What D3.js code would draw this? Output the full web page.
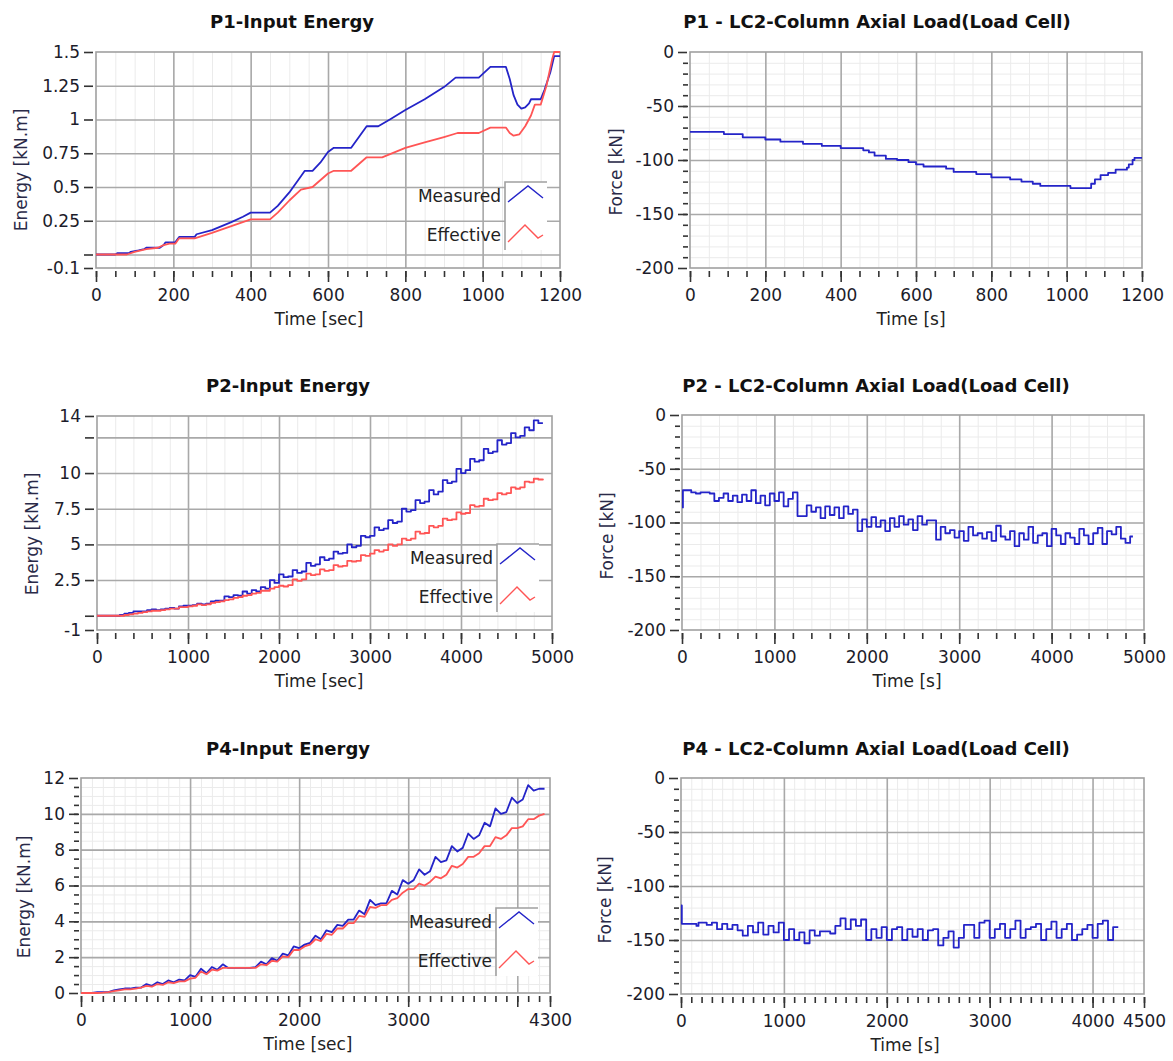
<!DOCTYPE html>
<html>
<head>
<meta charset="utf-8">
<script src="https://d3js.org/d3.v7.min.js"></script>
<style>
	body { margin: 0; background: #fff; }
	text { font-family: "DejaVu Sans", sans-serif; }
</style>
</head>
<body>
<svg id="chart" width="1173" height="1061"></svg>
<script>

// P1 input energy, [time s, energy kN.m]
var p1Measured = [[0,0],[50,0],[55,0.01],[85,0.01],[90,0.02],[110,0.03],[125,0.04],
	[130,0.05],[165,0.05],[175,0.07],[180,0.09],[205,0.09],[215,0.13],[255,0.13],
	[260,0.15],[300,0.18],[350,0.24],[380,0.28],[400,0.31],[450,0.31],[470,0.36],
	[500,0.46],[530,0.58],[540,0.62],[560,0.62],[580,0.68],[600,0.76],[615,0.79],
	[660,0.79],[680,0.87],[700,0.95],[730,0.95],[760,1.0],[800,1.07],[850,1.15],
	[900,1.24],[930,1.31],[990,1.31],[1020,1.39],[1060,1.39],[1070,1.3],[1080,1.18],
	[1090,1.11],[1100,1.08],[1110,1.09],[1120,1.12],[1125,1.15],[1150,1.15],
	[1160,1.22],[1175,1.35],[1185,1.47],[1200,1.47]];
var p1Effective = [[0,0],[80,0],[100,0.02],[130,0.04],[160,0.05],[175,0.07],[190,0.08],
	[205,0.08],[215,0.12],[255,0.12],[300,0.16],[350,0.21],[400,0.26],[450,0.26],
	[470,0.31],[500,0.4],[530,0.48],[560,0.5],[600,0.6],[615,0.62],[660,0.62],
	[680,0.67],[700,0.72],[740,0.72],[800,0.79],[850,0.83],[900,0.87],[935,0.9],
	[990,0.9],[1020,0.94],[1060,0.94],[1070,0.9],[1080,0.88],[1095,0.89],[1110,0.95],
	[1125,1.03],[1135,1.11],[1150,1.11],[1165,1.25],[1180,1.45],[1185,1.5],[1200,1.5]];

// P1 column axial load, [time s, force kN]
var p1Force = [[0,-74],[90,-76],[140,-79],[200,-81],[240,-83],[300,-85],[350,-87],
	[400,-89],[460,-91],[475,-93],[490,-96],[520,-99],[550,-100],[580,-102],[600,-104],
	[620,-106],[680,-108],[700,-111],[760,-113],[800,-116],[850,-118],[880,-120],
	[910,-122],[930,-124],[1010,-126],[1060,-126],[1065,-122],[1075,-118],[1090,-114],
	[1110,-112],[1130,-109],[1160,-107],[1165,-104],[1175,-100],[1180,-98],[1200,-98]];

// P2 input energy
var p2Time = [0,50,100,150,200,250,300,350,400,450,
	500,550,600,650,700,750,800,850,900,950,
	1000,1050,1100,1150,1200,1250,1300,1350,1400,1450,
	1500,1550,1600,1650,1700,1750,1800,1850,1900,1950,
	2000,2050,2100,2150,2200,2250,2300,2350,2400,2450,
	2500,2550,2600,2650,2700,2750,2800,2850,2900,2950,
	3000,3050,3100,3150,3200,3250,3300,3350,3400,3450,
	3500,3550,3600,3650,3700,3750,3800,3850,3900,3950,
	4000,4050,4100,4150,4200,4250,4300,4350,4400,4450,
	4500,4550,4600,4650,4700,4750,4800,4850,4900];
var p2Measured = [0,0,0,0,0,0.05,0.15,0.2,0.3,0.3,
	0.3,0.4,0.45,0.4,0.45,0.5,0.55,0.5,0.65,0.7,
	0.7,0.75,0.85,0.8,0.85,1.0,1.05,1.05,1.35,1.3,
	1.45,1.4,1.7,1.55,1.8,1.7,2.0,1.9,2.5,2.3,
	2.9,2.7,2.75,3.2,3.0,3.1,3.7,3.5,3.6,4.1,
	3.9,4.0,4.5,4.35,4.4,5.0,4.8,4.9,5.6,5.5,
	5.6,6.2,6.0,6.1,6.7,6.5,6.6,7.5,7.3,7.4,
	8.1,7.9,8.0,8.8,8.5,8.7,9.5,9.3,9.4,10.3,
	10.0,10.2,11.0,10.8,10.9,11.7,11.4,11.5,12.3,12.0,
	12.1,12.8,12.5,12.6,13.2,13.0,13.7,13.5,13.5];
var p2Effective = [0,0,0,0,0,0,0.05,0.1,0.15,0.2,
	0.25,0.3,0.35,0.35,0.4,0.45,0.5,0.5,0.6,0.6,
	0.65,0.7,0.8,0.75,0.8,0.9,0.95,1.0,1.1,1.15,
	1.25,1.3,1.4,1.45,1.55,1.6,1.75,1.75,1.9,2.0,
	2.1,2.05,2.15,2.55,2.45,2.55,2.95,2.85,2.9,3.25,
	3.15,3.2,3.55,3.45,3.5,3.85,3.8,3.85,4.25,4.2,
	4.35,4.6,4.5,4.6,5.0,4.9,5.0,5.4,5.3,5.4,
	5.9,5.75,5.8,6.3,6.2,6.3,6.8,6.7,6.75,7.25,
	7.15,7.2,7.75,7.65,7.7,8.2,8.1,8.15,8.6,8.5,
	8.6,9.0,8.9,9.0,9.4,9.35,9.6,9.55,9.6];

// P2 column axial load
var p2Force = [[0,-86],[10,-70],[100,-72],[150,-73],[200,-72],[300,-73],[350,-80],
	[400,-77],[450,-73],[500,-80],[550,-75],[600,-81],[650,-74],[700,-80],[750,-70],
	[800,-82],[850,-75],[900,-84],[950,-73],[1000,-80],[1050,-72],[1100,-85],[1150,-78],
	[1200,-72],[1250,-94],[1300,-94],[1350,-84],[1400,-90],[1450,-86],[1500,-96],
	[1550,-85],[1600,-93],[1650,-86],[1700,-96],[1750,-85],[1800,-92],[1850,-88],
	[1900,-108],[1950,-97],[2000,-104],[2050,-95],[2100,-104],[2150,-98],[2200,-108],
	[2250,-96],[2300,-104],[2350,-94],[2400,-102],[2450,-97],[2500,-107],[2550,-94],
	[2600,-102],[2650,-98],[2700,-98],[2750,-116],[2800,-104],[2850,-110],[2900,-107],
	[2950,-114],[3000,-108],[3050,-117],[3100,-104],[3150,-112],[3200,-110],[3250,-115],
	[3300,-109],[3350,-117],[3400,-103],[3450,-113],[3500,-116],[3550,-108],[3600,-122],
	[3650,-110],[3700,-116],[3750,-104],[3800,-119],[3850,-112],[3900,-110],[3950,-122],
	[4000,-106],[4050,-112],[4100,-120],[4150,-110],[4200,-114],[4250,-120],[4300,-106],
	[4350,-112],[4400,-120],[4450,-110],[4500,-105],[4550,-120],[4600,-108],[4650,-111],
	[4700,-104],[4750,-115],[4800,-119],[4850,-113],[4880,-113]];

// P4 input energy
var p4Time = [0,50,100,150,200,250,300,350,400,450,
	500,550,600,650,700,750,800,850,900,950,
	1000,1050,1100,1150,1200,1250,1300,1350,1400,1450,
	1500,1550,1600,1650,1700,1750,1800,1850,1900,1950,
	2000,2050,2100,2150,2200,2250,2300,2350,2400,2450,
	2500,2550,2600,2650,2700,2750,2800,2850,2900,2950,
	3000,3050,3100,3150,3200,3250,3300,3350,3400,3450,
	3500,3550,3600,3650,3700,3750,3800,3850,3900,3950,
	4000,4050,4100,4150,4200,4250];
var p4Measured = [0,0,0,0.05,0.05,0.05,0.15,0.2,0.25,0.25,
	0.3,0.3,0.5,0.4,0.6,0.5,0.7,0.6,0.75,0.7,
	1.0,0.9,1.35,1.1,1.45,1.3,1.6,1.4,1.4,1.4,
	1.4,1.4,1.45,1.75,1.6,1.95,1.8,2.2,2.1,2.6,
	2.5,2.7,2.8,3.2,3.0,3.5,3.4,3.8,3.75,4.1,
	4.1,4.6,4.4,5.2,4.9,5.0,5.0,5.7,5.5,6.3,
	6.1,6.3,6.9,6.6,6.8,7.6,7.3,7.4,8.2,7.9,
	8.1,8.9,8.6,8.8,9.5,9.3,10.3,10.0,10.1,10.9,
	10.6,10.8,11.6,11.3,11.4,11.4];
var p4Effective = [0,0,0,0,0.02,0.05,0.1,0.15,0.2,0.2,
	0.25,0.3,0.4,0.35,0.5,0.45,0.6,0.55,0.65,0.65,
	0.8,0.85,1.2,1.05,1.3,1.25,1.4,1.4,1.4,1.4,
	1.4,1.4,1.4,1.6,1.55,1.8,1.75,2.05,2.0,2.4,
	2.4,2.6,2.7,3.0,2.9,3.3,3.25,3.6,3.6,3.9,
	3.9,4.3,4.25,4.8,4.75,4.9,4.9,5.2,5.3,5.6,
	5.8,5.8,6.1,6.0,6.2,6.5,6.4,6.6,7.1,7.0,
	7.2,7.6,7.6,7.8,8.2,8.2,8.7,8.6,8.8,9.2,
	9.2,9.3,9.7,9.7,9.9,10.0];

// P4 column axial load
var p4Force = [[0,-118],[8,-135],[150,-137],[170,-134],[250,-136],[300,-134],[350,-140],
	[400,-135],[450,-140],[500,-136],[550,-141],[600,-146],[650,-137],[700,-143],
	[750,-134],[800,-145],[850,-137],[900,-143],[950,-134],[1000,-150],[1050,-140],
	[1100,-150],[1150,-143],[1200,-153],[1250,-141],[1300,-146],[1350,-142],[1400,-142],
	[1450,-144],[1500,-137],[1550,-130],[1600,-140],[1650,-131],[1700,-137],[1750,-131],
	[1800,-150],[1850,-140],[1900,-148],[1950,-138],[2000,-150],[2050,-140],[2100,-138],
	[2150,-150],[2200,-140],[2250,-147],[2300,-140],[2350,-150],[2400,-141],[2450,-140],
	[2500,-155],[2550,-148],[2600,-142],[2650,-157],[2700,-148],[2750,-136],[2800,-136],
	[2850,-148],[2900,-134],[2950,-132],[3000,-148],[3050,-140],[3100,-135],[3150,-148],
	[3200,-140],[3250,-132],[3300,-148],[3350,-140],[3400,-138],[3450,-135],[3500,-150],
	[3550,-140],[3600,-133],[3650,-148],[3700,-140],[3750,-135],[3800,-150],[3850,-145],
	[3900,-140],[3950,-136],[4000,-148],[4050,-135],[4100,-132],[4150,-150],[4200,-138],
	[4250,-138]];

// tick values and labels
var p1TimeTicks = [0,200,400,600,800,1000,1200];
var p1EnergyTicks = [-0.1,0,0.25,0.5,0.75,1,1.25,1.5];
var p1EnergyLabels = ["-0.1","","0.25","0.5","0.75","1","1.25","1.5"];
var p2TimeTicks = [0,1000,2000,3000,4000,5000];
var p2EnergyTicks = [-1,0,2.5,5,7.5,10,12.5,14];
var p2EnergyLabels = ["-1","","2.5","5","7.5","10","","14"];
var p4TimeTicks = [0,1000,2000,3000,4000,4300];
var p4TimeLabels = ["0","1000","2000","3000","","4300"];
var p4ForceTimeTicks = [0,1000,2000,3000,4000,4500];
var p4EnergyTicks = [0,2,4,6,8,10,12];
var forceTicks = [-200,-150,-100,-50,0];

var seriesNames = ["Measured", "Effective"];

// helpers.....................................................................

var svg = d3.select("#chart"),
	blue = "#2424c8", red = "#ff5555",
	majorGrid = "#a9a9a9", minorGrid = "#ebebeb";

function zip(t, v) {
	return t.map(function(d, i) { return [d, v[i]]; });
}

function between(list, lo, hi) {
	return list.filter(function(d) { return d > lo + 1e-9 && d < hi - 1e-9; });
}

function drawPanel(p) {
	var g = svg.append("g"),
		x = d3.scaleLinear().domain(p.xDomain).range([p.left, p.right]),
		y = d3.scaleLinear().domain(p.yDomain).range([p.bottom, p.top]),
		h = p.bottom - p.top, w = p.right - p.left;

	// minor grid
	g.append("g")
		.attr("transform", "translate(0," + p.bottom + ")")
		.call(d3.axisBottom(x).tickValues(p.vMinor).tickSize(-h).tickFormat(""))
		.call(cleanGrid, minorGrid, 1);
	if (p.hMinor)
		g.append("g")
			.attr("transform", "translate(" + p.left + ",0)")
			.call(d3.axisLeft(y).tickValues(p.hMinor).tickSize(-w).tickFormat(""))
			.call(cleanGrid, minorGrid, 1);

	// major grid
	g.append("g")
		.attr("transform", "translate(0," + p.bottom + ")")
		.call(d3.axisBottom(x).tickValues(between(p.vMajor, p.xDomain[0], p.xDomain[1]))
			.tickSize(-h).tickFormat(""))
		.call(cleanGrid, majorGrid, 1.6);
	g.append("g")
		.attr("transform", "translate(" + p.left + ",0)")
		.call(d3.axisLeft(y).tickValues(between(p.yTicks, p.yDomain[0], p.yDomain[1]))
			.tickSize(-w).tickFormat(""))
		.call(cleanGrid, majorGrid, 1.6);

	// frame
	g.append("rect")
		.attr("x", p.left).attr("y", p.top)
		.attr("width", w).attr("height", h)
		.attr("fill", "none")
		.attr("stroke", "#a0a0a0")
		.attr("stroke-width", 1.6);

	// series
	p.series.forEach(function(s) {
		var line = d3.line()
			.x(function(d) { return x(d[0]); })
			.y(function(d) { return y(d[1]); })
			.curve(s.step ? d3.curveStepAfter : d3.curveLinear);
		g.append("path")
			.datum(s.data)
			.attr("fill", "none")
			.attr("stroke", s.color)
			.attr("stroke-width", 1.8)
			.attr("stroke-linejoin", "round")
			.attr("d", line);
	});

	// x ticks
	g.append("g")
		.attr("transform", "translate(0," + (p.bottom + 3) + ")")
		.call(d3.axisBottom(x).tickValues(p.xMinor).tickSize(6).tickFormat(""))
		.call(cleanAxis);
	g.append("g")
		.attr("transform", "translate(0," + (p.bottom + 3) + ")")
		.call(d3.axisBottom(x).tickValues(p.xTicks).tickSize(11).tickPadding(7)
			.tickFormat(function(d, i) { return p.xLabels ? p.xLabels[i] : d; }))
		.call(cleanAxis);

	// y ticks
	if (p.yMinor)
		g.append("g")
			.attr("transform", "translate(" + (p.left - 2) + ",0)")
			.call(d3.axisLeft(y).tickValues(p.yMinor).tickSize(5).tickFormat(""))
			.call(cleanAxis);
	g.append("g")
		.attr("transform", "translate(" + (p.left - 3) + ",0)")
		.call(d3.axisLeft(y).tickValues(p.yTicks).tickSize(9).tickPadding(4)
			.tickFormat(function(d, i) { return p.yLabels ? p.yLabels[i] : d; }))
		.call(cleanAxis);

	// titles
	g.append("text")
		.attr("x", p.titleX).attr("y", p.titleY)
		.attr("text-anchor", "middle")
		.attr("font-size", 18).attr("font-weight", "bold")
		.attr("fill", "#111")
		.text(p.title);
	g.append("text")
		.attr("x", p.xTitleX).attr("y", p.bottom + 57)
		.attr("text-anchor", "middle")
		.attr("font-size", 17).attr("fill", "#222")
		.text(p.xTitle);
	g.append("text")
		.attr("transform", "translate(" + p.yTitleX + "," + p.yTitleY + ") rotate(-90)")
		.attr("text-anchor", "middle")
		.attr("font-size", 17).attr("fill", "#2a2a48")
		.text(p.yTitle);

	if (p.legend) drawLegend(g, p.legend[0], p.legend[1], p.series);
}

function cleanGrid(sel, color, width) {
	sel.select(".domain").remove();
	sel.selectAll(".tick line").attr("stroke", color).attr("stroke-width", width);
}

function cleanAxis(sel) {
	sel.select(".domain").remove();
	sel.selectAll(".tick line").attr("stroke", "#333").attr("stroke-width", 1.6);
	sel.selectAll(".tick text")
		.attr("font-size", 17)
		.attr("font-family", "DejaVu Sans, sans-serif")
		.attr("fill", "#1c1c2a");
}

function drawLegend(g, lx, ly, series) {
	var zig = [
		[[3,20],[23,4],[38,16]],
		[[3,60],[20,43],[33,56],[38,53]]
	];
	g.append("rect")
		.attr("x", lx).attr("y", ly)
		.attr("width", 42).attr("height", 68)
		.attr("fill", "#fff");
	g.append("path")
		.attr("d", "M" + lx + "," + (ly + 68) + "V" + ly + "H" + (lx + 42))
		.attr("fill", "none")
		.attr("stroke", "#a0a0a0")
		.attr("stroke-width", 1.6);
	series.forEach(function(s, i) {
		g.append("text")
			.attr("x", lx - 4).attr("y", ly + 20 + i * 39)
			.attr("text-anchor", "end")
			.attr("font-size", 17).attr("fill", "#222")
			.text(s.name);
		g.append("path")
			.attr("d", d3.line()(zig[i].map(function(d) { return [lx + d[0], ly + d[1]]; })))
			.attr("fill", "none")
			.attr("stroke", s.color)
			.attr("stroke-width", 1.4);
	});
}

// panels......................................................................

drawPanel({
	title: "P1-Input Energy", titleX: 292, titleY: 28,
	left: 96, right: 560, top: 52, bottom: 268,
	xDomain: [0, 1200], yDomain: [-0.1, 1.5],
	xTicks: p1TimeTicks, vMajor: p1TimeTicks,
	xMinor: d3.range(0, 1201, 50), vMinor: d3.range(50, 1200, 50),
	yTicks: p1EnergyTicks, yLabels: p1EnergyLabels,
	xTitle: "Time [sec]", xTitleX: 319,
	yTitle: "Energy [kN.m]", yTitleX: 27, yTitleY: 170,
	legend: [505, 182],
	series: [
		{name: seriesNames[0], color: blue, data: p1Measured},
		{name: seriesNames[1], color: red, data: p1Effective}
	]
});

drawPanel({
	title: "P1 - LC2-Column Axial Load(Load Cell)", titleX: 877, titleY: 28,
	left: 690, right: 1142, top: 52, bottom: 268,
	xDomain: [0, 1200], yDomain: [-200, 0],
	xTicks: p1TimeTicks, vMajor: p1TimeTicks,
	xMinor: d3.range(0, 1201, 50), vMinor: d3.range(50, 1200, 50),
	yTicks: forceTicks, yMinor: d3.range(-190, 0, 10), hMinor: d3.range(-190, 0, 10),
	xTitle: "Time [s]", xTitleX: 911,
	yTitle: "Force [kN]", yTitleX: 622, yTitleY: 172,
	series: [{color: blue, data: p1Force, step: true}]
});

drawPanel({
	title: "P2-Input Energy", titleX: 288, titleY: 392,
	left: 97, right: 552, top: 416, bottom: 630,
	xDomain: [0, 5000], yDomain: [-1, 14],
	xTicks: p2TimeTicks, vMajor: p2TimeTicks,
	xMinor: d3.range(0, 5001, 200), vMinor: d3.range(200, 5000, 200),
	yTicks: p2EnergyTicks, yLabels: p2EnergyLabels,
	xTitle: "Time [sec]", xTitleX: 319,
	yTitle: "Energy [kN.m]", yTitleX: 38, yTitleY: 534,
	legend: [497, 544],
	series: [
		{name: seriesNames[0], color: blue, data: zip(p2Time, p2Measured), step: true},
		{name: seriesNames[1], color: red, data: zip(p2Time, p2Effective), step: true}
	]
});

drawPanel({
	title: "P2 - LC2-Column Axial Load(Load Cell)", titleX: 876, titleY: 392,
	left: 682, right: 1144, top: 415, bottom: 630,
	xDomain: [0, 5000], yDomain: [-200, 0],
	xTicks: p2TimeTicks, vMajor: p2TimeTicks,
	xMinor: d3.range(0, 5001, 200), vMinor: d3.range(200, 5000, 200),
	yTicks: forceTicks, yMinor: d3.range(-190, 0, 10), hMinor: d3.range(-190, 0, 10),
	xTitle: "Time [s]", xTitleX: 907,
	yTitle: "Force [kN]", yTitleX: 613, yTitleY: 536,
	series: [{color: blue, data: p2Force, step: true}]
});

drawPanel({
	title: "P4-Input Energy", titleX: 288, titleY: 755,
	left: 81, right: 550, top: 778, bottom: 993,
	xDomain: [0, 4300], yDomain: [0, 12],
	xTicks: p4TimeTicks, xLabels: p4TimeLabels, vMajor: p4TimeTicks,
	xMinor: d3.range(0, 4301, 100), vMinor: d3.range(100, 4300, 100),
	yTicks: p4EnergyTicks, yMinor: d3.range(0.5, 12, 0.5), hMinor: d3.range(0.5, 12, 0.5),
	xTitle: "Time [sec]", xTitleX: 308,
	yTitle: "Energy [kN.m]", yTitleX: 30, yTitleY: 897,
	legend: [496, 908],
	series: [
		{name: seriesNames[0], color: blue, data: zip(p4Time, p4Measured)},
		{name: seriesNames[1], color: red, data: zip(p4Time, p4Effective)}
	]
});

drawPanel({
	title: "P4 - LC2-Column Axial Load(Load Cell)", titleX: 876, titleY: 755,
	left: 681, right: 1144, top: 778, bottom: 994,
	xDomain: [0, 4500], yDomain: [-200, 0],
	xTicks: p4ForceTimeTicks, vMajor: p4ForceTimeTicks,
	xMinor: d3.range(0, 4501, 100), vMinor: d3.range(100, 4500, 100),
	yTicks: forceTicks, yMinor: d3.range(-190, 0, 10), hMinor: d3.range(-190, 0, 10),
	xTitle: "Time [s]", xTitleX: 905,
	yTitle: "Force [kN]", yTitleX: 611, yTitleY: 900,
	series: [{color: blue, data: p4Force, step: true}]
});
</script>
</body>
</html>
